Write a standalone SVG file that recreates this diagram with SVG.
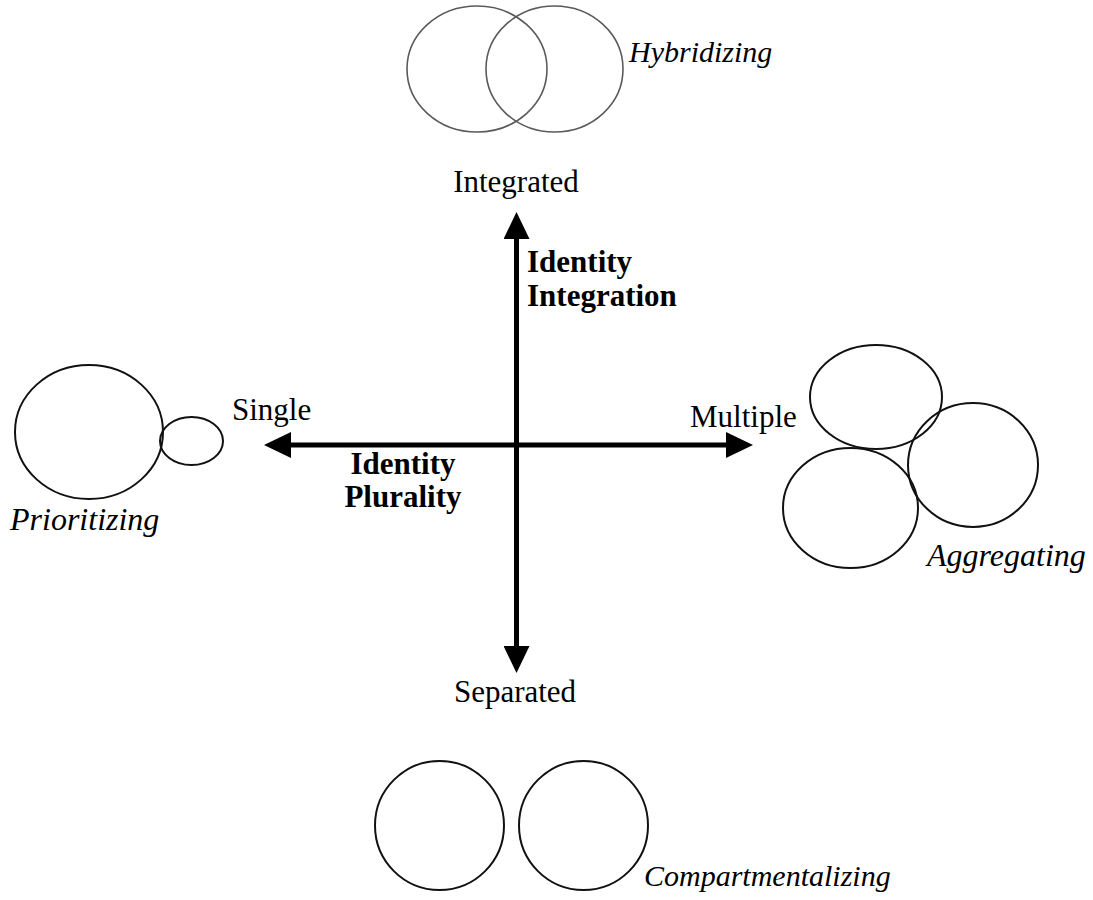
<svg xmlns="http://www.w3.org/2000/svg" width="1093" height="900" viewBox="0 0 1093 900">
  <style>
    .label { font-family: "Liberation Serif", "Times New Roman", serif; font-size: 31px; fill: #000; }
    .mode { font-family: "Liberation Serif", "Times New Roman", serif; font-size: 32px; font-style: italic; fill: #000; }
    .mode-small { font-size: 30px; }
    .axis-title { font-family: "Liberation Serif", "Times New Roman", serif; font-size: 31px; font-weight: bold; fill: #000; }
    .ring { fill: none; stroke: #111; stroke-width: 2; }
    .ring-soft { fill: none; stroke: #5a5a5a; stroke-width: 1.6; }
    .axis { fill: none; stroke: #000; stroke-width: 5; }
  </style>
  <defs>
    <marker id="head" viewBox="0 0 27 26" refX="2" refY="13" markerWidth="27" markerHeight="26" markerUnits="userSpaceOnUse" orient="auto-start-reverse">
      <path d="M0,0 L27,13 L0,26 z" fill="#000"/>
    </marker>
  </defs>
  <rect width="1093" height="900" fill="#fff"/>

  <!-- axes -->
  <g id="connectors">
    <path class="axis" d="M516.5,237 L516.5,648" marker-start="url(#head)" marker-end="url(#head)"/>
    <path class="axis" d="M289,445 L728,445" marker-start="url(#head)" marker-end="url(#head)"/>
  </g>

  <!-- axis end labels -->
  <g id="integrated"><text class="label" x="516" y="192" text-anchor="middle">Integrated</text></g>
  <g id="separated"><text class="label" x="515" y="702" text-anchor="middle">Separated</text></g>
  <g id="single"><text class="label" x="232" y="420">Single</text></g>
  <g id="multiple"><text class="label" x="690" y="427">Multiple</text></g>

  <!-- axis titles -->
  <g id="identity-integration">
    <text class="axis-title" x="527" y="272">Identity</text>
    <text class="axis-title" x="527" y="306">Integration</text>
  </g>
  <g id="identity-plurality">
    <text class="axis-title" x="403" y="474" text-anchor="middle">Identity</text>
    <text class="axis-title" x="403" y="507" text-anchor="middle">Plurality</text>
  </g>

  <!-- hybridizing: overlapping identities -->
  <g id="hybridizing">
    <ellipse class="ring-soft" cx="477" cy="69" rx="70" ry="63"/>
    <ellipse class="ring-soft" cx="554.5" cy="69" rx="68.5" ry="63"/>
    <text class="mode mode-small" x="629" y="62">Hybridizing</text>
  </g>

  <!-- prioritizing: one dominant identity -->
  <g id="prioritizing">
    <ellipse class="ring" cx="89" cy="432" rx="74" ry="67"/>
    <ellipse class="ring" cx="191.5" cy="441" rx="31.5" ry="24"/>
    <text class="mode" x="10" y="530">Prioritizing</text>
  </g>

  <!-- aggregating: touching identities -->
  <g id="aggregating">
    <ellipse class="ring" cx="876" cy="397" rx="66" ry="52"/>
    <ellipse class="ring" cx="973" cy="465" rx="65" ry="62"/>
    <ellipse class="ring" cx="850.5" cy="508" rx="67.5" ry="60"/>
    <text class="mode" x="927" y="566">Aggregating</text>
  </g>

  <!-- compartmentalizing: separate identities -->
  <g id="compartmentalizing">
    <circle class="ring" cx="439.5" cy="825.5" r="64.5"/>
    <circle class="ring" cx="583.5" cy="825.5" r="64.5"/>
    <text class="mode mode-small" x="644" y="886">Compartmentalizing</text>
  </g>
</svg>
